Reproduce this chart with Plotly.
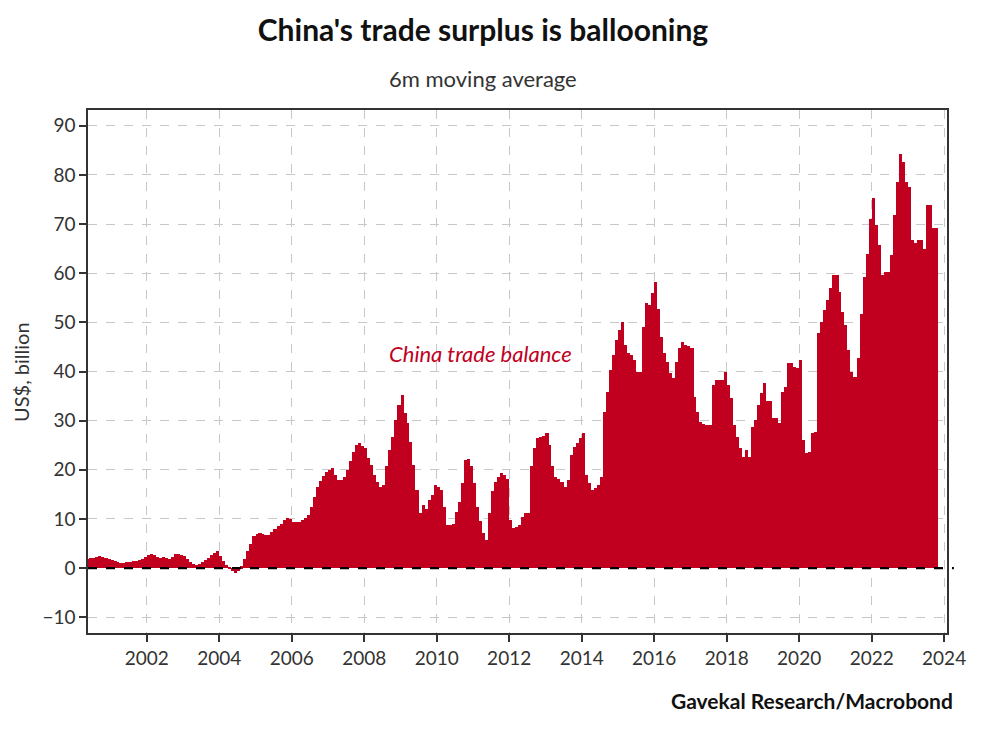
import pandas as pd
import plotly.graph_objects as go

#   Monthly China trade balance, 6m moving average (US$ bn), May 2000 - Oct 2023
start_month = "2000-05-01"
balance = [
    # 2000 (May-Dec)
    1.9, 2.0, 2.1, 2.3, 2.4, 2.2, 2.0, 1.8,
    # 2001
    1.6, 1.4, 1.2, 1.0, 1.1, 1.2, 1.3, 1.4, 1.5, 1.6, 1.9, 2.3,
    # 2002
    2.6, 2.9, 2.6, 2.3, 2.1, 2.2, 2.0, 1.8, 2.3, 2.8, 2.8, 2.6,
    # 2003
    2.4, 1.8, 1.2, 0.9, 0.7, 0.8, 1.3, 1.6, 2.0, 2.6, 3.0, 3.5,
    # 2004
    2.5, 1.4, 0.6, 0.3, -0.5, -1.0, -0.6, 0.4, 1.8, 3.5, 5.0, 6.5,
    # 2005
    6.9, 7.1, 7.0, 6.8, 6.7, 7.3, 8.0, 8.6, 9.0, 9.8, 10.2, 10.0,
    # 2006
    9.3, 9.4, 9.3, 9.7, 10.2, 10.8, 12.5, 14.5, 16.6, 17.8, 18.8, 19.5,
    # 2007
    20.0, 20.3, 19.0, 18.0, 17.9, 18.5, 20.0, 21.8, 23.7, 25.0, 25.4, 24.8,
    # 2008
    24.4, 22.5, 21.0, 19.0, 17.5, 16.6, 16.9, 20.7, 24.0, 26.7, 30.1, 33.2,
    # 2009
    35.2, 31.5, 29.5, 25.7, 21.0, 15.9, 11.2, 12.9, 12.0, 13.9, 14.9, 16.9,
    # 2010
    16.5, 15.9, 12.5, 8.8, 8.8, 9.0, 11.5, 13.5, 17.3, 22.0, 22.3, 20.7,
    # 2011
    17.3, 12.5, 9.5, 7.1, 5.8, 11.2, 15.6, 17.5, 18.6, 19.3, 19.0, 18.2,
    # 2012
    9.8, 8.1, 8.3, 8.8, 10.5, 11.2, 11.2, 20.7, 24.4, 26.4, 26.6, 26.8,
    # 2013
    27.4, 25.0, 20.7, 18.6, 18.2, 17.5, 16.6, 18.0, 23.0, 24.7, 25.4, 26.5,
    # 2014
    27.4, 19.0, 17.3, 15.9, 16.4, 16.9, 18.5, 31.8, 35.8, 40.3, 43.4, 46.4,
    # 2015
    48.4, 50.1, 45.4, 43.7, 43.4, 42.3, 40.0, 40.0, 49.1, 53.9, 53.6, 55.9,
    # 2016
    58.3, 52.8, 47.1, 43.7, 42.0, 39.6, 38.6, 42.0, 44.7, 46.1, 45.4, 45.2,
    # 2017
    44.7, 34.9, 31.8, 29.8, 29.4, 29.1, 29.1, 37.3, 38.3, 38.3, 38.3, 40.0,
    # 2018
    37.3, 34.6, 29.1, 26.7, 24.4, 22.7, 24.0, 22.7, 28.8, 30.1, 33.2, 35.6,
    # 2019
    37.6, 33.9, 33.9, 30.5, 30.5, 29.5, 35.9, 36.9, 41.7, 41.7, 41.0, 40.7,
    # 2020
    42.3, 26.1, 23.4, 23.7, 27.4, 27.7, 47.8, 50.1, 52.5, 54.5, 57.0, 59.6,
    # 2021
    59.6, 56.2, 52.2, 49.5, 44.4, 40.0, 38.9, 42.7, 51.8, 59.3, 64.0, 71.1,
    # 2022
    75.2, 69.8, 65.7, 59.6, 60.3, 60.3, 63.7, 71.8, 78.6, 84.3, 82.6, 78.6,
    # 2023 (Jan-Oct)
    77.6, 66.7, 66.1, 66.7, 66.7, 65.0, 73.8, 73.8, 69.1, 69.1,
]
months = pd.date_range(start_month, periods=len(balance), freq="MS")

y_ticks = [-10, 0, 10, 20, 30, 40, 50, 60, 70, 80, 90]
x_ticks = [f"{y}-01-01" for y in range(2002, 2025, 2)]

font = "Lato, Open Sans, sans-serif"
red = "#C0001E"
grey_text = "#333333"

#   page body has an 8px margin, so the figure is 16px smaller than the window
W, H = 984, 730
L, R, T, B = 80, 45, 102, 105
pw, ph = W - L - R, H - T - B

fig = go.Figure()
fig.add_trace(go.Bar(
    x=months, y=balance,
    xperiod="M1", xperiodalignment="middle",
    width=31 * 86400000,
    marker=dict(color=red, line=dict(width=0)),
    hoverinfo="x+y",
))

#   Dashed zero line across the plot
fig.add_shape(type="line", xref="paper", yref="y", x0=0, x1=1.008, y0=0, y1=0,
              line=dict(color="black", width=2.2, dash="dash"), layer="above")

fig.update_layout(
    width=W, height=H,
    margin=dict(l=L, r=R, t=T, b=B),
    paper_bgcolor="white", plot_bgcolor="white",
    bargap=0, showlegend=False,
    font=dict(family=font, color=grey_text, size=19),
    title=dict(text="<b>China's trade surplus is ballooning</b>", x=475 / W, xanchor="center",
               y=1 - 22 / H, yanchor="middle", font=dict(size=30, color="#111111", family=font)),
)

fig.update_xaxes(
    type="date", range=["2000-05-19", "2024-01-30"],
    tickvals=x_ticks, tickformat="%Y",
    ticks="outside", ticklen=7, tickcolor=grey_text, tickwidth=1.5,
    showgrid=True, gridcolor="#c8c8c8", griddash="dash", gridwidth=1,
    showline=True, linecolor=grey_text, linewidth=1.5, mirror=True,
    tickfont=dict(size=19, color=grey_text),
)
fig.update_yaxes(
    range=[-13.2, 93.2], tickvals=y_ticks,
    ticks="outside", ticklen=7, tickcolor=grey_text, tickwidth=1.5,
    showgrid=True, gridcolor="#c8c8c8", griddash="dash", gridwidth=1,
    zeroline=False,
    showline=True, linecolor=grey_text, linewidth=1.5, mirror=True,
    tickfont=dict(size=19, color=grey_text),
)

fig.add_annotation(text="US$, billion", xref="paper", yref="paper",
                   x=(13 - L) / pw, y=(H - B - 364) / ph, xanchor="center", yanchor="middle",
                   textangle=-90, showarrow=False, font=dict(size=20, color=grey_text))
fig.add_annotation(text="6m moving average", xref="paper", yref="paper",
                   x=(475 - L) / pw, y=(H - B - 70) / ph, xanchor="center", yanchor="middle",
                   showarrow=False, font=dict(size=22, color=grey_text))
fig.add_annotation(text="<i>China trade balance</i>", xref="paper", yref="paper",
                   x=(472 - L) / pw, y=(H - B - 345) / ph, xanchor="center", yanchor="middle",
                   showarrow=False, font=dict(size=22, color=red))
fig.add_annotation(text="<b>Gavekal Research/Macrobond</b>", xref="paper", yref="paper",
                   x=(947 - L) / pw, y=(H - B - 692) / ph, xanchor="right", yanchor="middle",
                   showarrow=False, font=dict(size=21, color="#111111"))

fig.write_html("out.html")
